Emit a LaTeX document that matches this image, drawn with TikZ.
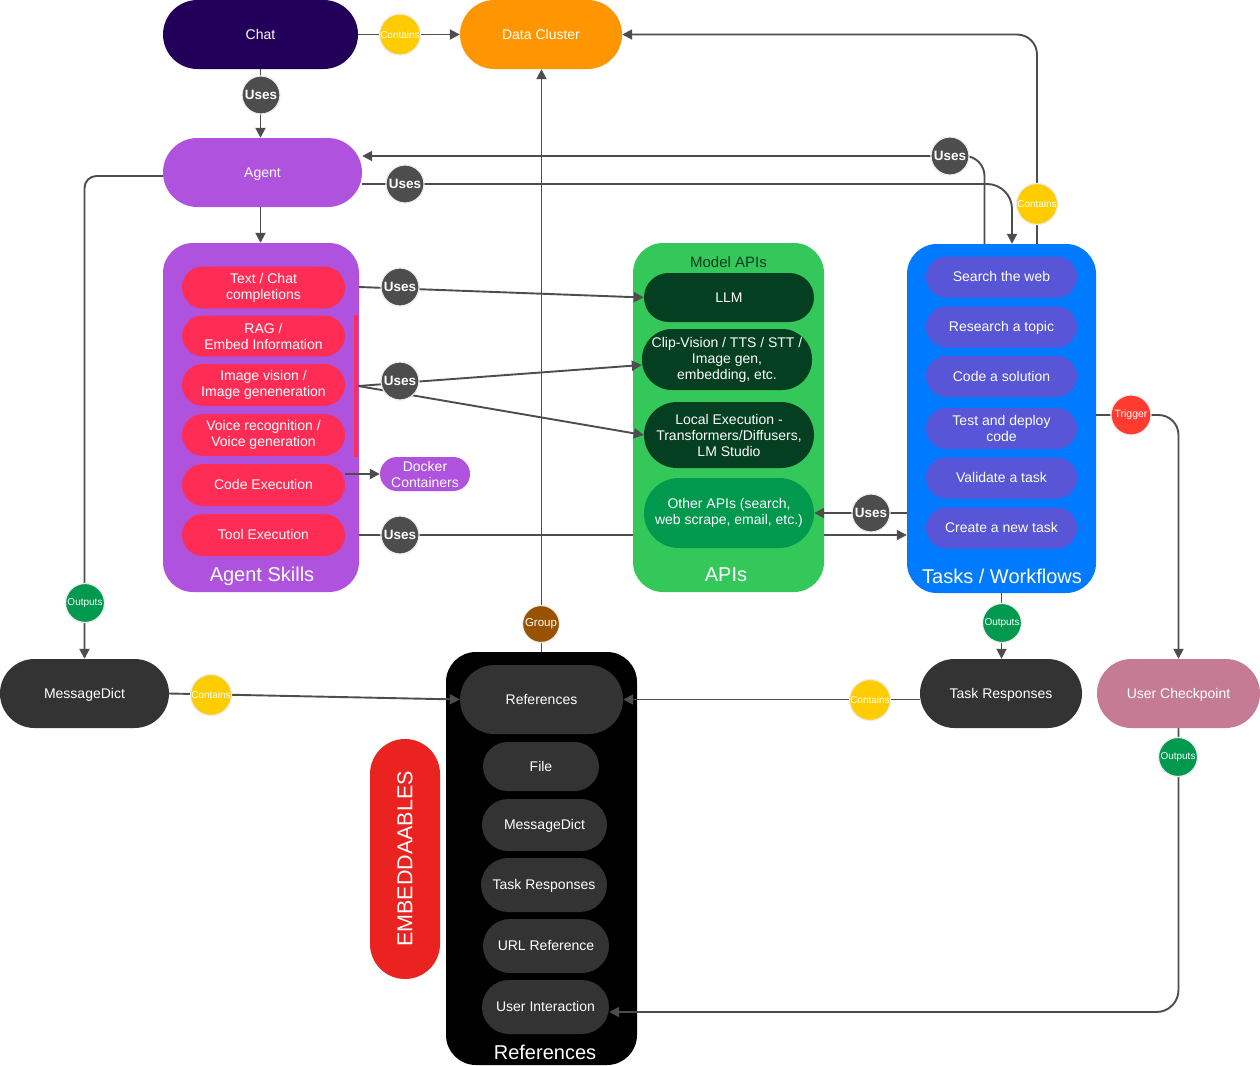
\documentclass[tikz,border=0pt]{standalone}
\usepackage{fontspec}
\setmainfont{Liberation Sans}
\usetikzlibrary{arrows.meta}
\pgfdeclarelayer{bottom}
\pgfdeclarelayer{bg}
\pgfdeclarelayer{mid}
\pgfsetlayers{bottom,bg,mid,main}
\newcommand\myfs[2]{\fontsize{#1}{#2}\selectfont}
\definecolor{chatc}{HTML}{22005A}
\definecolor{orng}{HTML}{FF9500}
\definecolor{purp}{HTML}{AF52DE}
\definecolor{itred}{HTML}{FF2D55}
\definecolor{gbox}{HTML}{34C759}
\definecolor{dkg}{HTML}{033F20}
\definecolor{midg}{HTML}{00994D}
\definecolor{mtxt}{HTML}{053D20}
\definecolor{blu}{HTML}{007AFF}
\definecolor{indg}{HTML}{5856D6}
\definecolor{dgray}{HTML}{333333}
\definecolor{lc}{HTML}{4D4D4D}
\definecolor{usegray}{HTML}{4D4D4D}
\definecolor{rim}{HTML}{ECECEC}
\definecolor{yel}{HTML}{FFCC00}
\definecolor{outg}{HTML}{00994D}
\definecolor{brwn}{HTML}{995200}
\definecolor{trig}{HTML}{FF3B30}
\definecolor{pink}{HTML}{C57B93}
\definecolor{embr}{HTML}{EA2320}
\tikzset{
  conn/.style={draw=lc, line width=1.9pt},
  arr/.style={conn, -{Triangle[length=10pt,width=10pt]}},
  pill/.style={rounded corners=#1, inner sep=0pt, align=center, text=white, font=\myfs{14}{16}},
  one/.style={text height=9.5pt, text depth=0pt},
  cbox/.style={rounded corners=30pt, inner sep=0pt},
  ttl/.style={text=white, font=\myfs{20}{22}, inner sep=0pt},
  lbl/.style={circle, draw=rim, line width=1.2pt, inner sep=0pt, text=white, minimum size=38pt},
  usesc/.style={lbl, fill=usegray, font=\bfseries\myfs{13.5}{15}},
  contc/.style={lbl, fill=yel, font=\myfs{10}{11}, minimum size=41pt},
  outc/.style={lbl, fill=outg, font=\myfs{10}{11}, minimum size=39pt},
}
\begin{document}
\begin{tikzpicture}[x=1pt,y=-1pt]
\begin{pgfonlayer}{bottom}
\fill[white] (0,0) rectangle (1260,1065);
\end{pgfonlayer}
\useasboundingbox (0,0) rectangle (1260,1065);

% containers
\begin{pgfonlayer}{bg}
\node[cbox, fill=purp, minimum width=196, minimum height=349] (skills) at (261,417.5) {};
\node[cbox, fill=gbox, minimum width=191, minimum height=349] (apis) at (728.5,417.5) {};
\node[cbox, fill=blu, minimum width=189, minimum height=349] (tasks) at (1001.5,418.5) {};
\node[cbox, fill=black, minimum width=191, minimum height=413] (refbox) at (541.5,858.5) {};
\end{pgfonlayer}

% top nodes
\node[pill=34.5, one, fill=chatc, minimum width=195, minimum height=69] (chat) at (260.5,34.5) {Chat};
\node[pill=34.5, one, fill=orng, minimum width=162, minimum height=69] (dc) at (541,34.5) {Data Cluster};
\node[pill=34.5, one, fill=purp, minimum width=199, minimum height=69] (agent) at (262.5,172.5) {Agent};

% agent skills
\node[pill=21, fill=itred, minimum width=163, minimum height=42] (tc) at (263.5,287.5) {Text / Chat\\completions};
\node[pill=21, fill=itred, minimum width=163, minimum height=41] (rag) at (263.5,336) {RAG /\\Embed Information};
\node[pill=21, fill=itred, minimum width=163, minimum height=42] (iv) at (263.5,385) {Image vision /\\Image geneneration};
\node[pill=21, fill=itred, minimum width=163, minimum height=42] (vr) at (263.5,435) {Voice recognition /\\Voice generation};
\node[pill=21, one, fill=itred, minimum width=163, minimum height=42] (code) at (263.5,485) {Code Execution};
\node[pill=21, one, fill=itred, minimum width=163, minimum height=42] (tool) at (263.5,535) {Tool Execution};
\node[fill=itred, inner sep=0pt, minimum width=4, minimum height=142] (rbar) at (356,386) {};
\node[ttl] (skillsT) at (262,576) {Agent Skills};
\node[pill=17, fill=purp, minimum width=90, minimum height=34] (docker) at (425,474) {Docker\\Containers};

% APIs
\node[text=mtxt, font=\myfs{15}{17}, inner sep=0pt] (modelT) at (728.5,262) {Model APIs};
\node[pill=24.5, one, fill=dkg, minimum width=170, minimum height=49] (llm) at (729,297.5) {LLM};
\node[pill=30, fill=dkg, minimum width=170, minimum height=61] (clip) at (727,359.5) {Clip-Vision / TTS / STT /\\Image gen,\\embedding, etc.};
\node[pill=33, fill=dkg, minimum width=170, minimum height=66] (local) at (729,435) {Local Execution -\\Transformers/Diffusers,\\LM Studio};
\node[pill=35, fill=midg, minimum width=170, minimum height=70] (other) at (729,513) {Other APIs (search,\\web scrape, email, etc.)};
\node[ttl] (apisT) at (726,575) {APIs};

% Tasks
\node[pill=20.5, one, fill=indg, minimum width=151, minimum height=41] (t1) at (1001.5,277) {Search the web};
\node[pill=20.5, one, fill=indg, minimum width=151, minimum height=41] (t2) at (1001.5,327) {Research a topic};
\node[pill=20.5, one, fill=indg, minimum width=151, minimum height=41] (t3) at (1001.5,376.5) {Code a solution};
\node[pill=20.5, fill=indg, minimum width=151, minimum height=41] (t4) at (1001.5,428.5) {Test and deploy\\code};
\node[pill=20.5, one, fill=indg, minimum width=151, minimum height=41] (t5) at (1001.5,478) {Validate a task};
\node[pill=20.5, one, fill=indg, minimum width=151, minimum height=41] (t6) at (1001.5,528) {Create a new task};
\node[ttl] (tasksT) at (1002,576) {Tasks / Workflows};

% bottom row
\node[pill=34.5, one, fill=dgray, minimum width=169, minimum height=69] (md) at (84.5,693.5) {MessageDict};
\node[pill=34.5, one, fill=dgray, minimum width=162, minimum height=69] (tr) at (1001,693.5) {Task Responses};
\node[pill=34.5, one, fill=pink, minimum width=163, minimum height=69] (uc) at (1178.5,693.5) {User Checkpoint};

% references
\node[pill=34.5, one, fill=dgray, minimum width=163, minimum height=69] (ref) at (541.5,699.5) {References};
\node[pill=24.5, one, fill=dgray, minimum width=116, minimum height=49] (file) at (541,766.5) {File};
\node[pill=26, one, fill=dgray, minimum width=125, minimum height=52] (rmd) at (544.5,825) {MessageDict};
\node[pill=27, one, fill=dgray, minimum width=126, minimum height=54] (rtr) at (544,885) {Task Responses};
\node[pill=27, one, fill=dgray, minimum width=126, minimum height=54] (url) at (546,946) {URL Reference};
\node[pill=27, one, fill=dgray, minimum width=127, minimum height=54] (ui) at (545.5,1007) {User Interaction};
\node[ttl] (refT) at (545,1052) {References};
\node[pill=35, fill=embr, rotate=90, minimum width=240, minimum height=70, font=\myfs{21.5}{24}] (embed) at (405,859) {EMBEDDAABLES};

% label circles
\node[usesc] (u1) at (261,95) {Uses};
\node[contc] (c1) at (400,34.5) {Contains};
\node[usesc] (u2) at (405,184) {Uses};
\node[usesc] (u3) at (950,156) {Uses};
\node[contc] (c2) at (1037,204) {Contains};
\node[usesc] (uA) at (400,287) {Uses};
\node[usesc] (uB) at (400,381) {Uses};
\node[usesc] (uC) at (400,535) {Uses};
\node[usesc] (uD) at (871,513) {Uses};
\node[lbl, fill=trig, font=\myfs{10.5}{11}, minimum size=40pt] (tg) at (1131,415) {Trigger};
\node[outc] (oL) at (85,603) {Outputs};
\node[lbl, fill=brwn, font=\myfs{11.5}{12}, minimum size=37pt] (gp) at (541,624) {Group};
\node[outc] (oT) at (1002,623) {Outputs};
\node[contc] (cM) at (211,695) {Contains};
\node[contc] (cT) at (870,700) {Contains};
\node[outc] (oU) at (1178,757) {Outputs};

% connectors
\begin{pgfonlayer}{bottom}
\draw[arr] (skills.east |- uC) -- (tasks.west |- uC);
\end{pgfonlayer}
\begin{pgfonlayer}{mid}
\draw[arr] (chat.south) -- (chat.south |- agent.north);
\draw[arr] (chat.east) -- (dc.west);
\draw[arr] ([xshift=-2pt]agent.south) -- ([xshift=-2pt]agent.south |- skills.north);
\draw[arr, rounded corners=25pt] (agent.east |- u2) -| ([xshift=10.5pt]tasks.north);
\draw[arr, rounded corners=20pt] ([xshift=-17pt]tasks.north) |- (agent.east |- u3);
\draw[arr, rounded corners=20pt] ([xshift=35.5pt]tasks.north) |- (dc.east);
\draw[arr] (refbox.north) -- (refbox.north |- dc.south);
\draw[arr, rounded corners=12pt] ([yshift=-3.5pt]agent.west) -| (md.north);
\draw[arr] (md.east) -- (ref.west);
\draw[arr] (tr.west |- ref.east) -- (ref.east);
\draw[arr] (tasks.south) -- (tasks.south |- tr.north);
\draw[arr, rounded corners=20pt] (tasks.east |- tg) -| (uc.north);
\draw[arr, rounded corners=22pt] (uc.south) |- ([yshift=-5pt]ui.east);
\draw[arr] (skills.east |- uA) -- (llm.west);
\draw[arr] (rbar.east) -- ([yshift=-5.5pt]clip.west);
\draw[arr] (rbar.east) -- (local.west);
\draw[arr] (code.east |- docker.west) -- (docker.west);
\draw[arr] (tasks.west |- other) -- (other.east);
\end{pgfonlayer}
\end{tikzpicture}
\end{document}
